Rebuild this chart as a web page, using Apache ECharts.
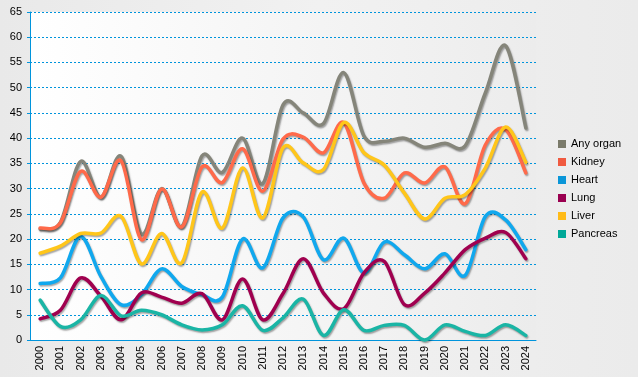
<!DOCTYPE html>
<html><head><meta charset="utf-8">
<script src="https://cdn.jsdelivr.net/npm/echarts@6/dist/echarts.min.js"></script>
<style>html,body{margin:0;padding:0;background:#eeeeee}#c{width:638px;height:377px}</style>
</head><body><div id="c"></div>
<script>
var years = ['2000','2001','2002','2003','2004','2005','2006','2007','2008','2009','2010','2011','2012','2013','2014','2015','2016','2017','2018','2019','2020','2021','2022','2023','2024'];
var seriesNames = ['Any organ','Kidney','Heart','Lung','Liver','Pancreas'];
var anyOrgan = [22, 23.3, 35.4, 28.3, 36.4, 21, 30, 22.5, 36.5, 33.2, 40, 31, 46.6, 45, 42.9, 53, 40.4, 39.4, 40, 38.2, 39, 38.5, 49, 58.3, 42];
var kidney = [22.2, 23.2, 33.4, 28.3, 35.5, 19.9, 29.9, 22.4, 34.3, 31.2, 37.9, 29.5, 39.8, 40.2, 37.1, 43.1, 31.1, 28.1, 33.1, 31.1, 34.3, 27, 38.7, 41.7, 33.1];
var heart = [11.2, 12.3, 20.5, 12.6, 7, 9, 14.1, 10.6, 9, 8.5, 20, 14.3, 24.2, 24.4, 15.9, 20.2, 13.3, 19.4, 16.9, 14.1, 17.1, 12.8, 24.5, 23.8, 17.9];
var lung = [4.2, 5.9, 12.3, 8.7, 4.0, 9.3, 8.5, 7.3, 9.2, 4.0, 12.1, 4.0, 9.2, 16.1, 9.3, 6.2, 13.3, 15.6, 7.0, 9.3, 13.3, 17.9, 20.2, 21.3, 16.1];
var liver = [17.2, 18.6, 21.1, 21.2, 24.5, 15.1, 21.1, 15.3, 29.3, 22.2, 34.1, 24.2, 38.1, 35.1, 33.8, 43.1, 37.1, 34.7, 29.1, 24.0, 28.1, 28.8, 34.1, 42.2, 35.2];
var pancreas = [7.9, 2.7, 4.0, 8.8, 4.8, 5.9, 5.0, 3.0, 2.0, 3.0, 6.8, 1.9, 4.4, 8.1, 0.9, 6.0, 1.9, 2.9, 2.9, 0, 3.0, 1.7, 0.9, 3.0, 0.9];

var values = [anyOrgan, kidney, heart, lung, liver, pancreas];
var lineColors = ['#85857a', '#ff6a4a', '#10a8ee', '#a0004f', '#ffc61a', '#1ab5a5'];
var legendColors = ['#7a7a6a', '#f05a40', '#0a96d8', '#9a0050', '#ffbb18', '#00a898'];
var FONT = 'Liberation Sans, Arial, sans-serif';

// Catmull-Rom spline through the points the axes give for each value
function makeRender(vals, color) {
  return function (params, api) {
    if (params.dataIndex !== 0) return null;
    var pts = vals.map(function (v, j) { return api.coord([j, v]); });
    var n = pts.length;
    var d = 'M' + pts[0][0] + ' ' + pts[0][1];
    for (var k = 0; k < n - 1; k++) {
      var p0 = pts[k > 0 ? k - 1 : k], p1 = pts[k], p2 = pts[k + 1], p3 = pts[k + 2 < n ? k + 2 : k + 1];
      var c1x = p1[0] + (p2[0] - p0[0]) / 6, c1y = p1[1] + (p2[1] - p0[1]) / 6;
      var c2x = p2[0] - (p3[0] - p1[0]) / 6, c2y = p2[1] - (p3[1] - p1[1]) / 6;
      d += ' C' + c1x + ' ' + c1y + ' ' + c2x + ' ' + c2y + ' ' + p2[0] + ' ' + p2[1];
    }
    return {
      type: 'path', silent: true,
      shape: {pathData: d},
      style: {fill: 'none', stroke: color, lineWidth: 3.5, lineJoin: 'round', lineCap: 'round',
        shadowColor: 'rgba(0,0,0,0.35)', shadowBlur: 1.5, shadowOffsetX: 1, shadowOffsetY: 1.5}
    };
  };
}

var chart = echarts.init(document.getElementById('c'), null, {renderer: 'canvas'});
chart.setOption({
  animation: false,
  backgroundColor: new echarts.graphic.LinearGradient(0, 0, 1, 0, [{offset: 0, color: '#e9e9e9'}, {offset: 0.5, color: '#f1f1f1'}, {offset: 1, color: '#ebebeb'}]),
  grid: {
    left: 30, right: 102, top: 12, bottom: 37, show: true, borderWidth: 0,
    backgroundColor: new echarts.graphic.LinearGradient(0, 0, 1, 0, [{offset: 0, color: '#ffffff'}, {offset: 1, color: '#ececec'}])
  },
  legend: {
    orient: 'vertical', left: 553, top: 132, icon: 'rect', itemWidth: 8, itemHeight: 8, itemGap: 4,
    textStyle: {fontFamily: FONT, fontSize: 11, color: '#000', lineHeight: 14},
    data: seriesNames.map(function (n, i) { return {name: n, itemStyle: {color: legendColors[i]}}; })
  },
  xAxis: {
    type: 'category', data: years, boundaryGap: true,
    axisLine: {lineStyle: {color: '#0094dc', width: 1}},
    axisTick: {alignWithLabel: true, length: 3, lineStyle: {color: '#0094dc'}},
    axisLabel: {rotate: 90, interval: 0, margin: 6, fontFamily: FONT, fontSize: 11, color: '#000'},
    splitLine: {show: false}
  },
  yAxis: {
    type: 'value', min: 0, max: 65, interval: 5,
    axisLine: {show: true, lineStyle: {color: '#0094dc', width: 1}},
    axisTick: {show: true, length: 3, lineStyle: {color: '#0094dc'}},
    axisLabel: {margin: 8, fontFamily: FONT, fontSize: 11, color: '#000'},
    splitLine: {lineStyle: {color: '#0094dc', type: [2, 2], width: 1}}
  },
  series: seriesNames.map(function (n, i) {
    return {
      name: n, type: 'custom', coordinateSystem: 'cartesian2d',
      data: values[i].map(function (v, j) { return [j, v]; }),
      encode: {x: 0, y: 1},
      itemStyle: {color: lineColors[i]},
      renderItem: makeRender(values[i], lineColors[i]),
      clip: false
    };
  })
});
</script></body></html>
